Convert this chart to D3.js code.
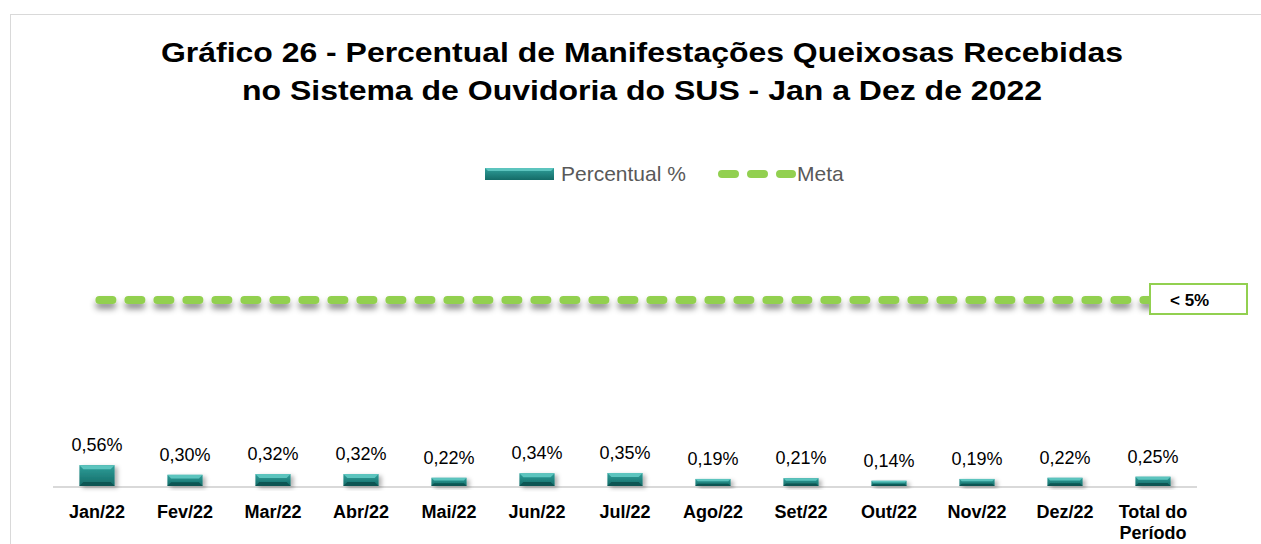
<!DOCTYPE html>
<html>
<head>
  <meta charset="utf-8">
  <script src="https://cdn.jsdelivr.net/npm/d3@7/dist/d3.min.js"></script>
  <style>
    body { margin: 0; background: #fff; }
    text { font-family: "Liberation Sans", Arial, sans-serif; }
  </style>
</head>
<body>
<div id="chart"></div>
<script>
  let categories = ['Jan/22', 'Fev/22', 'Mar/22', 'Abr/22', 'Mai/22', 'Jun/22', 'Jul/22',
    'Ago/22', 'Set/22', 'Out/22', 'Nov/22', 'Dez/22', 'Total do|Período'];
  let percentual = [0.56, 0.30, 0.32, 0.32, 0.22, 0.34, 0.35, 0.19, 0.21, 0.14, 0.19, 0.22, 0.25];
  let meta = 5;
  let metaLabel = '< 5%';
  let titleLines = ['Gráfico 26 - Percentual de Manifestações Queixosas Recebidas',
    'no Sistema de Ouvidoria do SUS - Jan a Dez de 2022'];
  let titleWidths = [962, 800];

  let w = 1261;
  let h = 544;

  let svg = d3.select('#chart').append('svg')
    .attr('width', w)
    .attr('height', h);

  let defs = svg.append('defs');
  let grad = defs.append('linearGradient').attr('id', 'barGrad')
    .attr('x1', 0).attr('y1', 0).attr('x2', 0).attr('y2', 1);
  grad.append('stop').attr('offset', '0%').attr('stop-color', '#2f9f9a');
  grad.append('stop').attr('offset', '100%').attr('stop-color', '#146b67');

  // line shadow (userSpaceOnUse so a flat line keeps its filter area)
  let shadow = defs.append('filter').attr('id', 'shadow')
    .attr('filterUnits', 'userSpaceOnUse')
    .attr('x', 0).attr('y', 260).attr('width', w).attr('height', 80);
  shadow.append('feDropShadow').attr('dx', 0).attr('dy', 5).attr('stdDeviation', 3)
    .attr('flood-color', '#000').attr('flood-opacity', 0.45);

  let barShadow = defs.append('filter').attr('id', 'barShadow')
    .attr('x', '-30%').attr('y', '-30%').attr('width', '170%').attr('height', '170%');
  barShadow.append('feDropShadow').attr('dx', 3).attr('dy', 2).attr('stdDeviation', 2)
    .attr('flood-color', '#000').attr('flood-opacity', 0.3);

  // chart border
  svg.append('rect')
    .attr('x', 10.5).attr('y', 14.5)
    .attr('width', 1260).attr('height', 540)
    .attr('fill', 'none')
    .attr('stroke', '#d9d9d9')
    .attr('stroke-width', 1);

  // title
  svg.append('g').selectAll('text')
    .data(titleLines)
    .enter()
    .append('text')
    .attr('x', 642)
    .attr('y', (d, i) => 62 + i * 38)
    .attr('text-anchor', 'middle')
    .attr('font-size', 28)
    .attr('font-weight', 'bold')
    .attr('fill', '#000')
    .attr('textLength', (d, i) => titleWidths[i])
    .attr('lengthAdjust', 'spacingAndGlyphs')
    .text(d => d);

  let xScale = d3.scaleBand()
    .domain(categories)
    .range([53, 1197])
    .paddingInner(0.6)
    .paddingOuter(0.3);

  let yScale = d3.scaleLinear()
    .domain([0, meta])
    .range([486, 300]);

  // baseline
  svg.append('line')
    .attr('x1', 53).attr('x2', 1197)
    .attr('y1', yScale(0) + 1).attr('y2', yScale(0) + 1)
    .attr('stroke', '#d9d9d9')
    .attr('stroke-width', 2);

  // bars
  let bars = svg.append('g').selectAll('g')
    .data(percentual)
    .enter()
    .append('g')
    .attr('filter', 'url(#barShadow)');

  let bw = xScale.bandwidth();
  bars.append('rect')
    .attr('x', (d, i) => xScale(categories[i]))
    .attr('y', d => yScale(d))
    .attr('width', bw)
    .attr('height', d => yScale(0) - yScale(d))
    .attr('fill', 'url(#barGrad)');

  // bevel top and bottom
  bars.append('path')
    .attr('d', (d, i) => {
      let x0 = xScale(categories[i]);
      let y0 = yScale(d);
      let bh = yScale(0) - y0;
      let b = Math.min(4, bh / 3);
      return `M${x0},${y0}L${x0 + bw},${y0}L${x0 + bw - b},${y0 + b}L${x0 + b},${y0 + b}Z`;
    })
    .attr('fill', '#5cc4be');
  bars.append('path')
    .attr('d', (d, i) => {
      let x0 = xScale(categories[i]);
      let y0 = yScale(d);
      let y1 = yScale(0);
      let b = Math.min(4, (y1 - y0) / 3);
      return `M${x0},${y1}L${x0 + bw},${y1}L${x0 + bw - b},${y1 - b}L${x0 + b},${y1 - b}Z`;
    })
    .attr('fill', '#0e5552');

  // value labels
  svg.append('g').selectAll('text')
    .data(percentual)
    .enter()
    .append('text')
    .attr('x', (d, i) => xScale(categories[i]) + bw / 2)
    .attr('y', d => yScale(d) - 14)
    .attr('text-anchor', 'middle')
    .attr('font-size', 18)
    .attr('fill', '#000')
    .text(d => d.toFixed(2).replace('.', ',') + '%');

  // category labels
  let cat = svg.append('g').selectAll('text')
    .data(categories)
    .enter()
    .append('text')
    .attr('x', d => xScale(d) + bw / 2)
    .attr('y', 518)
    .attr('text-anchor', 'middle')
    .attr('font-size', 18)
    .attr('font-weight', 'bold')
    .attr('fill', '#000');
  cat.selectAll('tspan')
    .data(d => d.split('|'))
    .enter()
    .append('tspan')
    .attr('x', function () { return d3.select(this.parentNode).attr('x'); })
    .attr('dy', (d, i) => i === 0 ? 0 : 21)
    .text(d => d);

  // meta line
  let first = categories[0];
  let last = categories[categories.length - 1];
  svg.append('line')
    .attr('x1', xScale(first) + 20)
    .attr('x2', xScale(last) + bw / 2)
    .attr('y1', yScale(meta))
    .attr('y2', yScale(meta))
    .attr('stroke', '#92d050')
    .attr('stroke-width', 8)
    .attr('stroke-linecap', 'round')
    .attr('stroke-dasharray', '13,16')
    .attr('filter', 'url(#shadow)');

  // meta label box
  svg.append('rect')
    .attr('x', 1150).attr('y', yScale(meta) - 16)
    .attr('width', 97).attr('height', 30)
    .attr('fill', '#fff')
    .attr('stroke', '#92d050')
    .attr('stroke-width', 2);
  svg.append('text')
    .attr('x', 1170).attr('y', yScale(meta) + 6)
    .attr('font-size', 17)
    .attr('font-weight', 'bold')
    .text(metaLabel);

  // legend
  let lg = svg.append('g');
  lg.append('rect')
    .attr('x', 485).attr('y', 168)
    .attr('width', 69).attr('height', 12)
    .attr('fill', 'url(#barGrad)');
  lg.append('path')
    .attr('d', 'M485,168L554,168L551,171L488,171Z')
    .attr('fill', '#5cc4be');
  lg.append('text')
    .attr('x', 561).attr('y', 181)
    .attr('font-family', '"Open Sans", sans-serif')
    .attr('font-size', 21)
    .attr('fill', '#595959')
    .text('Percentual %');
  lg.append('line')
    .attr('x1', 722).attr('x2', 792)
    .attr('y1', 174).attr('y2', 174)
    .attr('stroke', '#92d050')
    .attr('stroke-width', 8)
    .attr('stroke-linecap', 'round')
    .attr('stroke-dasharray', '13,16');
  lg.append('text')
    .attr('x', 797).attr('y', 181)
    .attr('font-family', '"Open Sans", sans-serif')
    .attr('font-size', 21)
    .attr('fill', '#595959')
    .text('Meta');
</script>
</body>
</html>
